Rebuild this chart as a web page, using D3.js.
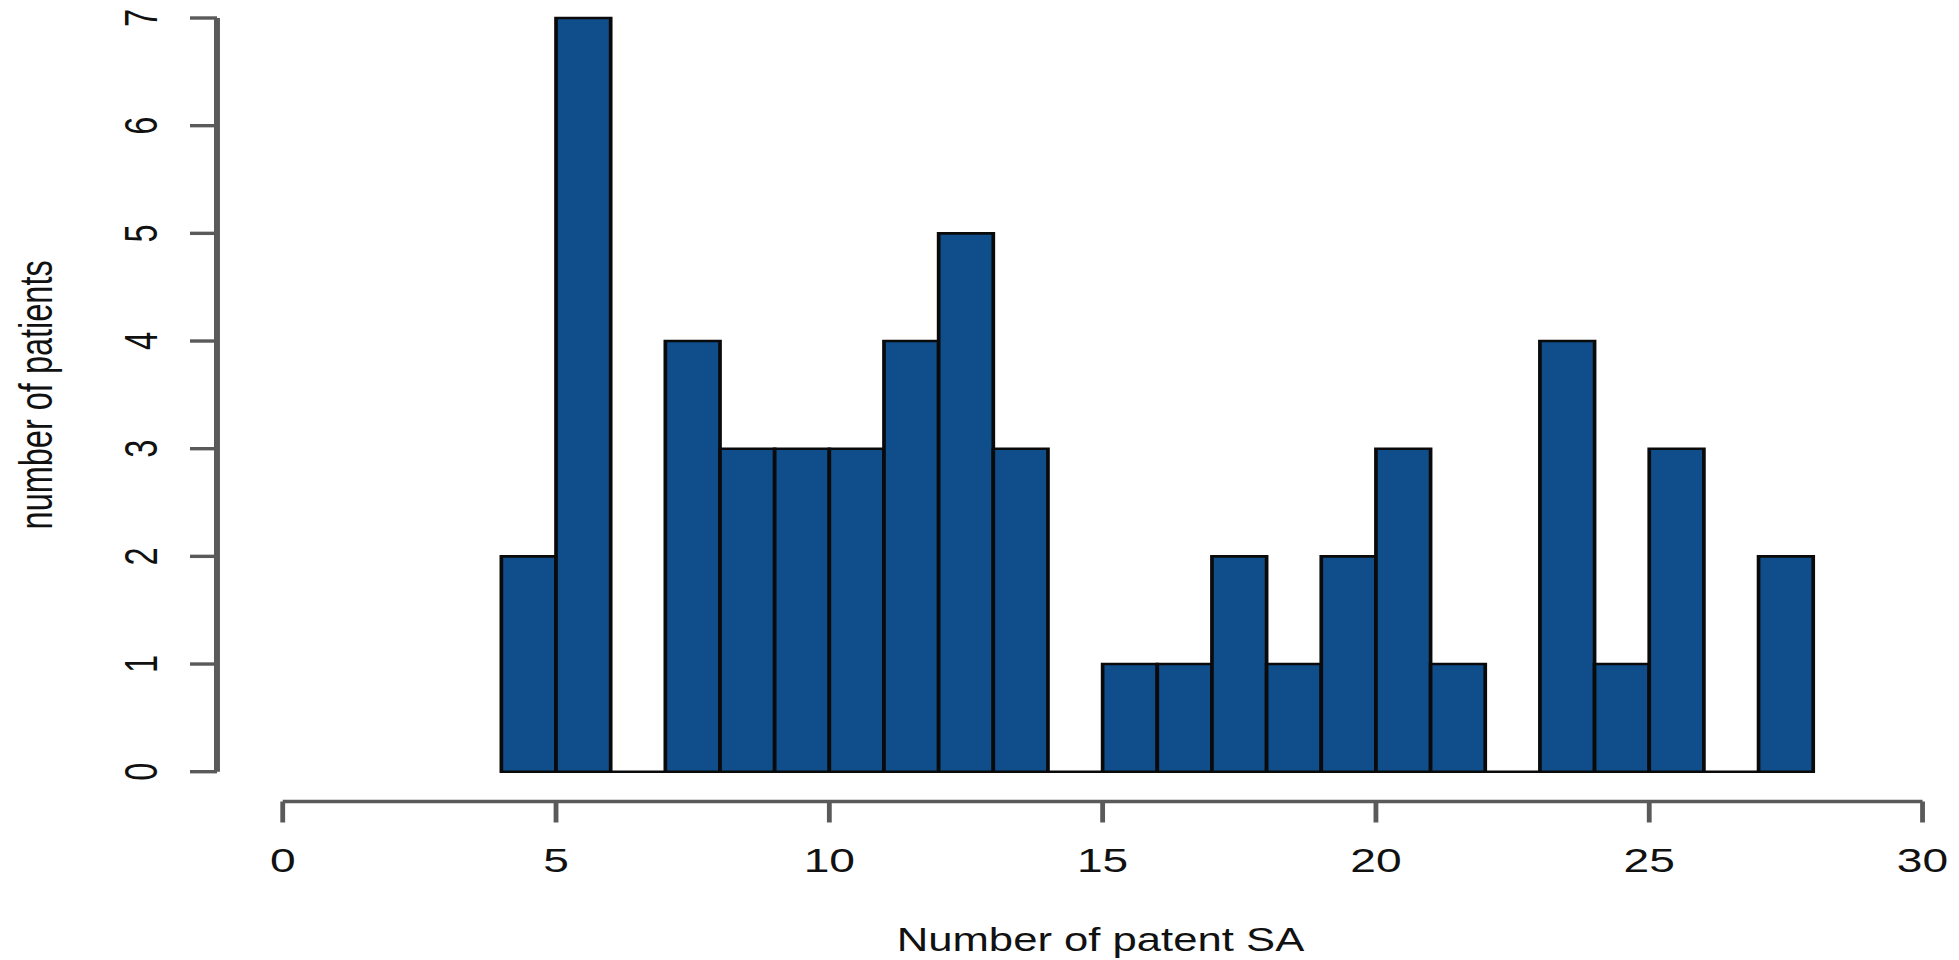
<!DOCTYPE html>
<html>
<head>
<meta charset="utf-8">
<script src="https://cdn.jsdelivr.net/npm/d3@7"></script>
<style>
  html, body { margin: 0; padding: 0; background: #fff; }
  svg { display: block; }
  text { font-family: "Liberation Sans", Arial, Helvetica, sans-serif; fill: #111; }
</style>
</head>
<body>
<svg id="chart" width="1959" height="960"></svg>
<script>
// Histogram of patent SA counts per patient (bins of width 1)
const binStarts = [4, 5, 6, 7, 8, 9, 10, 11, 12, 13, 14, 15, 16, 17, 18, 19, 20, 21, 22, 23, 24, 25, 26, 27];
const counts    = [2, 7, 0, 4, 3, 3, 3, 4, 5, 3, 0, 1, 1, 2, 1, 2, 3, 1, 0, 4, 1, 3, 0, 2];
const binWidth = 1;
const xTicks = [0, 5, 10, 15, 20, 25, 30];
const yTicks = [0, 1, 2, 3, 4, 5, 6, 7];
const xTitle = "Number of patent SA";
const yTitle = "number of patients";

// The plot is laid out in a narrower frame and stretched horizontally.
const sx = 1.42;
const fontSize = 32.5;

const svg = d3.select("#chart");
const g = svg.append("g").attr("transform", `scale(${sx},1)`);

const x = d3.scaleLinear().domain([0, 30]).range([199.1, 1353.9]);
const y = d3.scaleLinear().domain([0, 7]).range([771.7, 18]);

const barFill = "#104E8B";
const axisColor = "#5a5a5a";

// bars (zero-count bins still draw their baseline edge)
g.append("g").selectAll("path")
  .data(binStarts.map((s, i) => ({ s, c: counts[i] })))
  .join("path")
  .attr("d", d => {
    const x0 = x(d.s), x1 = x(d.s + binWidth), y0 = y(0), y1 = y(d.c);
    return `M${x0},${y0}V${y1}H${x1}V${y0}Z`;
  })
  .attr("fill", barFill)
  .attr("stroke", "#0a0a0a")
  .attr("stroke-width", 2.6)
  .attr("stroke-linejoin", "miter");

// x axis, offset below the plot
const xAxisY = 801.5;
const xa = g.append("g").attr("transform", `translate(0,${xAxisY})`);
xa.append("line")
  .attr("x1", x(xTicks[0])).attr("x2", x(xTicks[xTicks.length - 1]))
  .attr("stroke", axisColor).attr("stroke-width", 3.6);
xa.selectAll(".tick").data(xTicks).join("line")
  .attr("x1", d => x(d)).attr("x2", d => x(d))
  .attr("y1", 0).attr("y2", 21)
  .attr("stroke", axisColor).attr("stroke-width", 3.4);
xa.selectAll(".lbl").data(xTicks).join("text")
  .attr("x", d => x(d)).attr("y", 71)
  .attr("text-anchor", "middle")
  .attr("font-size", fontSize)
  .text(d => d);

// y axis, offset left of the plot
const yAxisX = 152.8;
const ya = g.append("g").attr("transform", `translate(${yAxisX},0)`);
ya.append("line")
  .attr("y1", y(yTicks[0])).attr("y2", y(yTicks[yTicks.length - 1]))
  .attr("stroke", axisColor).attr("stroke-width", 4.2);
ya.selectAll(".tick").data(yTicks).join("line")
  .attr("x1", 0).attr("x2", -19)
  .attr("y1", d => y(d)).attr("y2", d => y(d))
  .attr("stroke", axisColor).attr("stroke-width", 3.4);
ya.selectAll(".lbl").data(yTicks).join("text")
  .attr("transform", d => `translate(-42.5,${y(d)}) rotate(-90)`)
  .attr("text-anchor", "middle")
  .attr("font-size", fontSize)
  .text(d => d);

// axis titles
g.append("text")
  .attr("x", 775).attr("y", 951.5)
  .attr("text-anchor", "middle")
  .attr("font-size", fontSize)
  .attr("textLength", 287)
  .attr("lengthAdjust", "spacingAndGlyphs")
  .text(xTitle);

g.append("text")
  .attr("transform", `translate(36.8,${(y(0) + y(7)) / 2}) rotate(-90)`)
  .attr("text-anchor", "middle")
  .attr("font-size", fontSize)
  .text(yTitle);
</script>
</body>
</html>
